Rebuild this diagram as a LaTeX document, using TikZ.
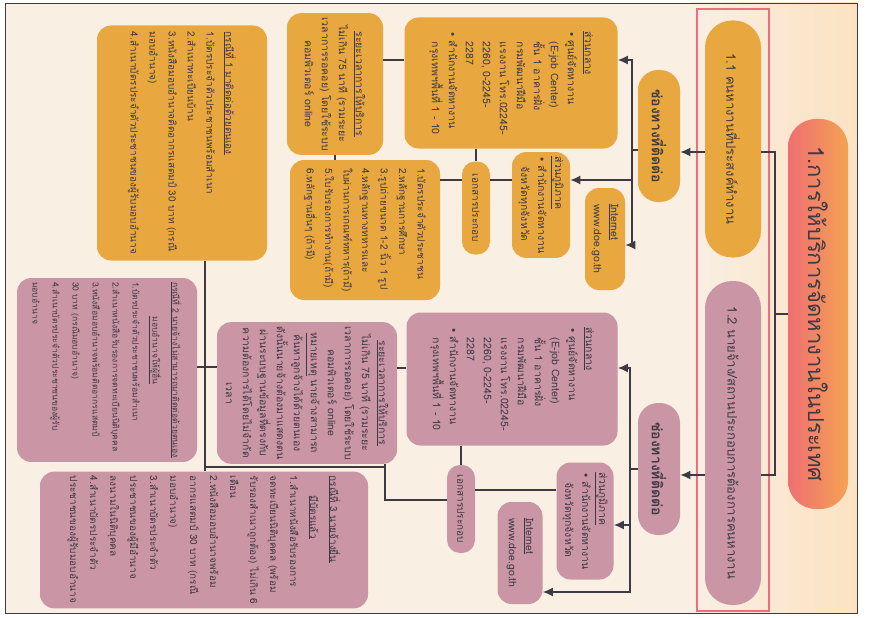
\documentclass[tikz,border=0pt]{standalone}
\usepackage{fontspec}
\newfontfamily\thaifont[Script=Thai]{Loma}
\newfontfamily\symfont{DejaVu Sans}
\usetikzlibrary{arrows.meta}

\definecolor{bgcream}{HTML}{F9EFE3}
\definecolor{bgpeach}{HTML}{FCE2C2}
\definecolor{boxorange}{HTML}{E8A73F}
\definecolor{boxpink}{HTML}{CA95A4}
\definecolor{titlered}{HTML}{EF6F72}
\definecolor{titleorange}{HTML}{F5A253}
\definecolor{redframe}{HTML}{EE6F7B}
\definecolor{ink}{HTML}{3E3A44}

\newcommand{\bul}{{\symfont •}\ }

\begin{document}
\begin{tikzpicture}[x=1pt, y=-1pt, thick, >={Latex[length=10pt,width=9pt]},
    box/.style = {rotate=-90, rounded corners=14pt, text=ink, inner sep=4pt, align=left, font=\thaifont\fontsize{10.5}{17}\selectfont},
    obox/.style = {box, fill=boxorange},
    pbox/.style = {box, fill=boxpink},
    pill/.style = {rotate=-90, rounded corners=#1, text=ink, inner sep=2pt},
    pill/.default = 14pt,
    conn/.style = {draw=ink, line width=1.2pt}]

    % page, frame
    \useasboundingbox (0,0) rectangle (871,618);
    \fill[white] (0,0) rectangle (871,618);
    \fill[bgcream] (5,3) rectangle (857,613);
    \shade[left color=bgcream, right color=bgpeach] (690,3) rectangle (857,613);
    \draw[ink, line width=0.8pt] (5,3) rectangle (857,613);
    \draw[redframe, line width=2.5pt] (697,9) rectangle (769,611);

    \node[pill=28pt, minimum width=390pt, minimum height=60pt, left color=titlered, right color=titleorange, font=\thaifont\fontsize{22}{26}\selectfont] (n_title) at (818,314) {1.การให้บริการจัดหางานในประเทศ};
    \node[pill=27pt, fill=boxorange, minimum width=237pt, minimum height=56pt, font=\thaifont\fontsize{13}{16}\selectfont] (n_11) at (733,139) {1.1 คนหางานที่ประสงค์ทำงาน};
    \node[pill=27pt, fill=boxpink, minimum width=324pt, minimum height=56pt, font=\thaifont\fontsize{13}{16}\selectfont] (n_12) at (733,443) {1.2 นายจ้าง/สถานประกอบการต้องการคนหางาน};
    \node[pill=20pt, fill=boxorange, minimum width=132pt, minimum height=42pt, font=\thaifont\bfseries\fontsize{14}{16}\selectfont] (n_ca) at (659,136) {ช่องทางที่ติดต่อ};
    \node[pill=20pt, fill=boxpink, minimum width=132pt, minimum height=42pt, font=\thaifont\bfseries\fontsize{14}{16}\selectfont] (n_cb) at (659,469) {ช่องทางที่ติดต่อ};

    % job seekers
    \node[obox, minimum width=131pt, minimum height=213pt] (n_centA) at (511,83) {\underline{ส่วนกลาง}\\ \bul ศูนย์จัดหางาน\\ \hspace{1em}(E-job Center)\\ \hspace{1em}ชั้น 1 อาคารฝั่ง\\ \hspace{1em}กรมพัฒนาฝีมือ\\ \hspace{1em}แรงงาน โทร.02245-\\ \hspace{1em}2260, 0-2245-\\ \hspace{1em}2287\\ \bul สำนักงานจัดหางาน\\ \hspace{1em}กรุงเทพฯพื้นที่ 1 - 10};
    \node[obox, minimum width=96pt, minimum height=58pt] (n_regA) at (541,205) {\underline{ส่วนภูมิภาค}\\ \bul สำนักงานจัดหางาน\\ \hspace{1em}จังหวัดทุกจังหวัด};
    \node[obox, minimum width=102pt, minimum height=40pt] (n_webA) at (605,239) {\underline{Internet}\\ www.doe.go.th};
    \node[pill=13pt, fill=boxorange, minimum width=93pt, minimum height=28pt, font=\thaifont\fontsize{10}{12}\selectfont] (n_docA) at (476,208) {เอกสารประกอบ};
    \node[obox, align=center, minimum width=127pt, minimum height=96pt] (n_timeA) at (335,84) {\underline{ระยะเวลาการให้บริการ}\\ ไม่เกิน 75 นาที (รวมระยะ\\ เวลาการรอคอย) โดยใช้ระบบ\\ คอมพิวเตอร์ online};
    \node[obox, minimum width=140pt, minimum height=150pt, font=\thaifont\fontsize{10}{18.5}\selectfont] (n_listA) at (365,230) {1.บัตรประจำตัวประชาชน\\ 2.หลักฐานการศึกษา\\ 3.รูปถ่ายขนาด 1-2 นิ้ว 1 รูป\\ 4.หลักฐานทางทหารและ\\ ใบผ่านการเกณฑ์ทหาร(ถ้ามี)\\ 5.ใบรับรองการทำงาน(ถ้ามี)\\ 6.หลักฐานอื่นๆ (ถ้ามี)};
    \node[obox, minimum width=235pt, minimum height=170pt, font=\thaifont\fontsize{10}{19}\selectfont] (n_case1) at (182,143) {\underline{กรณีที่ 1 มาติดต่อด้วยตนเอง}\\ 1.บัตรประจำตัวประชาชนพร้อมสำเนา\\ 2.สำเนาทะเบียนบ้าน\\ 3.หนังสือมอบอำนาจติดอากรแสตมป์ 30 บาท (กรณี\\ มอบอำนาจ)\\ 4.สำเนาบัตรประจำตัวประชาชนของผู้รับมอบอำนาจ};

    % employers
    \node[pbox, minimum width=133pt, minimum height=211pt] (n_centB) at (512,379) {\underline{ส่วนกลาง}\\ \bul ศูนย์จัดหางาน\\ \hspace{1em}(E-job Center)\\ \hspace{1em}ชั้น 1 อาคารฝั่ง\\ \hspace{1em}กรมพัฒนาฝีมือ\\ \hspace{1em}แรงงาน โทร.02245-\\ \hspace{1em}2260, 0-2245-\\ \hspace{1em}2287\\ \bul สำนักงานจัดหางาน\\ \hspace{1em}กรุงเทพฯพื้นที่ 1 - 10};
    \node[pbox, minimum width=117pt, minimum height=57pt] (n_regB) at (585,521) {\underline{ส่วนภูมิภาค}\\ \bul สำนักงานจัดหางาน\\ \hspace{1em}จังหวัดทุกจังหวัด};
    \node[pbox, minimum width=102pt, minimum height=45pt] (n_webB) at (520,553) {\underline{Internet}\\ www.doe.go.th};
    \node[pill=13pt, fill=boxpink, minimum width=88pt, minimum height=28pt, font=\thaifont\fontsize{10}{12}\selectfont] (n_docB) at (461,509) {เอกสารประกอบ};
    \node[pbox, align=center, minimum width=127pt, minimum height=180pt] (n_timeB) at (307,393) {\underline{ระยะเวลาการให้บริการ}\\ ไม่เกิน 75 นาที (รวมระยะ\\ เวลาการรอคอย) โดยใช้ระบบ\\ คอมพิวเตอร์ online\\ \underline{หมายเหตุ} นายจ้างสามารถ\\ ค้นหาลูกจ้างได้ด้วยตนเอง\\ ดังนั้นนายจ้างต้องมาแสดงตน\\ ผ่านระบบฐานข้อมูลที่ตรงกับ\\ ความต้องการได้โดยไม่จำกัด\\ เวลา};
    \node[pbox, minimum width=176pt, minimum height=180pt, font=\thaifont\fontsize{8.6}{20}\selectfont] (n_case2) at (107,370) {\underline{กรณีที่ 2 นายจ้างไม่สามารถมาติดต่อด้วยตนเอง}\\ \hspace{4em}\underline{มอบอำนาจให้ผู้อื่น}\\ 1.บัตรประจำตัวประชาชนพร้อมสำเนา\\ 2.สำเนาหนังสือรับรองการจดทะเบียนนิติบุคคล\\ 3.หนังสือมอบอำนาจพร้อมติดอากรแสตมป์\\ 30 บาท (กรณีมอบอำนาจ)\\ 4.สำเนาบัตรประจำตัวประชาชนของผู้รับ\\ มอบอำนาจ};
    \node[pbox, minimum width=125pt, minimum height=328pt, font=\thaifont\fontsize{10}{20}\selectfont] (n_case3) at (204,540) {\underline{กรณีที่ 3 นายจ้างยื่น}\\ \hspace{2em}\underline{มีบัตรแล้ว}\\ 1.สำเนาหนังสือรับรองการ\\ จดทะเบียนนิติบุคคล (พร้อม\\ รับรองสำเนาถูกต้อง) ไม่เกิน 6\\ เดือน\\ 2.หนังสือมอบอำนาจพร้อม\\ อากรแสตมป์ 30 บาท (กรณี\\ มอบอำนาจ)\\ 3.สำเนาบัตรประจำตัว\\ ประชาชนของผู้มีอำนาจ\\ ลงนามในนิติบุคคล\\ 4.สำเนาบัตรประจำตัว\\ ประชาชนของผู้รับมอบอำนาจ};

    % connectors
    \coordinate (j_t) at (775,314);
    \coordinate (j_11) at (775,152);
    \coordinate (j_12) at (775,475);
    \draw[conn] (n_title.south |- j_t) -- (j_t);
    \draw[conn] (n_11.north |- j_11) -- (j_11) -- (j_12) -- (n_12.north |- j_12);
    \draw[conn, ->] (n_11.south |- j_11) -- (n_ca.north |- j_11);
    \draw[conn, ->] (n_12.south |- j_12) -- (n_cb.north |- j_12);

    \coordinate (j_a) at (632,150);
    \coordinate (j_a1) at (632,60);
    \coordinate (j_a2) at (632,245);
    \coordinate (j_a3) at (632,180);
    \draw[conn] (n_ca.south |- j_a) -- (j_a);
    \draw[conn, ->] (j_a) -- (j_a1) -- (n_centA.north |- j_a1);
    \draw[conn, ->] (j_a) -- (j_a2) -- (n_webA.north |- j_a2);
    \draw[conn, ->] (j_a3) -- (n_regA.north |- j_a3);
    \draw[conn] (n_centA.east -| n_docA) -- (n_docA.west);
    \draw[conn] (n_regA.south |- j_a3) -- (n_docA.north |- j_a3);
    \draw[conn] (n_docA.south |- j_a3) -- (n_listA.north |- j_a3);
    \draw[conn] (n_timeA.north |- j_a1) -- (n_centA.south |- j_a1);
    \draw[conn] (n_timeA.east) -- (n_timeA.east |- n_listA.west);

    \coordinate (j_b) at (630,469);
    \coordinate (j_b1) at (630,368);
    \coordinate (j_b2) at (630,525);
    \coordinate (j_b3) at (630,592);
    \draw[conn] (n_cb.south |- j_b) -- (j_b);
    \draw[conn, ->] (j_b) -- (j_b1) -- (n_centB.north |- j_b1);
    \draw[conn, ->] (j_b2) -- (n_regB.north |- j_b2);
    \draw[conn, ->] (j_b) -- (j_b3) -- (n_webB.north |- j_b3);

    \coordinate (j_r) at (470,490);
    \coordinate (j_e) at (385,500);
    \coordinate (j_d) at (385,467);
    \coordinate (j_c) at (205,467);
    \coordinate (j_x) at (205,367);
    \draw[conn] (n_centB.east -| n_docB) -- (n_docB.west);
    \draw[conn] (n_docB.north |- j_r) -- (n_regB.south |- j_r);
    \draw[conn] (n_docB.south |- j_e) -- (j_e) -- (j_d) -- (j_c);
    \draw[conn] (n_timeB.east -| j_d) -- (j_d);
    \draw[conn] (n_case1.east -| j_c) -- (j_c) -- (n_case3.west -| j_c);
    \draw[conn] (n_case2.north |- j_x) -- (n_timeB.south |- j_x);
    \draw[conn] (n_timeB.north |- j_b1) -- (n_centB.south |- j_b1);
\end{tikzpicture}
\end{document}
